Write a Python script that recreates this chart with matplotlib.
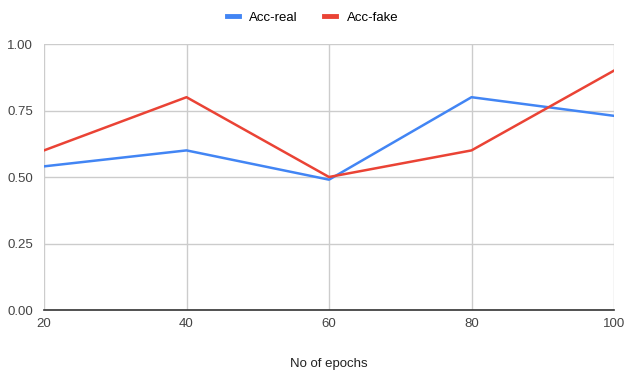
import matplotlib.pyplot as plt

epochs = [20, 40, 60, 80, 100]
acc_real = [0.54, 0.60, 0.49, 0.80, 0.73]
acc_fake = [0.60, 0.80, 0.50, 0.60, 0.90]
y_ticks = [0.00, 0.25, 0.50, 0.75, 1.00]

plt.rcParams['font.family'] = ['Liberation Sans', 'DejaVu Sans']

fig = plt.figure(figsize=(6.25, 3.71), dpi=100)
ax = fig.add_axes([0.0704, 0.1644, 0.912, 0.717])

ax.plot(epochs, acc_real, color='#4285F4', lw=1.8, label='Acc-real')
ax.plot(epochs, acc_fake, color='#EA4335', lw=1.8, label='Acc-fake')

ax.set_xlim(20, 100)
ax.set_ylim(0, 1)
ax.set_xticks(epochs)
ax.set_yticks(y_ticks)
ax.set_yticklabels([f'{v:.2f}' for v in y_ticks])
ax.grid(True, color='#cccccc', lw=1)
ax.set_axisbelow(True)

for side in ['top', 'right', 'left']:
    ax.spines[side].set_visible(False)
ax.spines['bottom'].set_color('#333333')
ax.spines['bottom'].set_linewidth(1.2)
ax.tick_params(length=0, labelsize=9.5, colors='#444444', pad=6)
ax.tick_params(axis='y', pad=8)

ax.set_xlabel('No of epochs', fontsize=9.5, color='#222222', labelpad=20)

leg = fig.legend(loc='upper center', bbox_to_anchor=(0.5, 1.0), ncol=2, frameon=False,
                 fontsize=9.5, handlelength=0.9, handletextpad=0.8, columnspacing=2)
for line in leg.get_lines():
    line.set_linewidth(3.5)

fig.savefig('out.png', dpi=100)
